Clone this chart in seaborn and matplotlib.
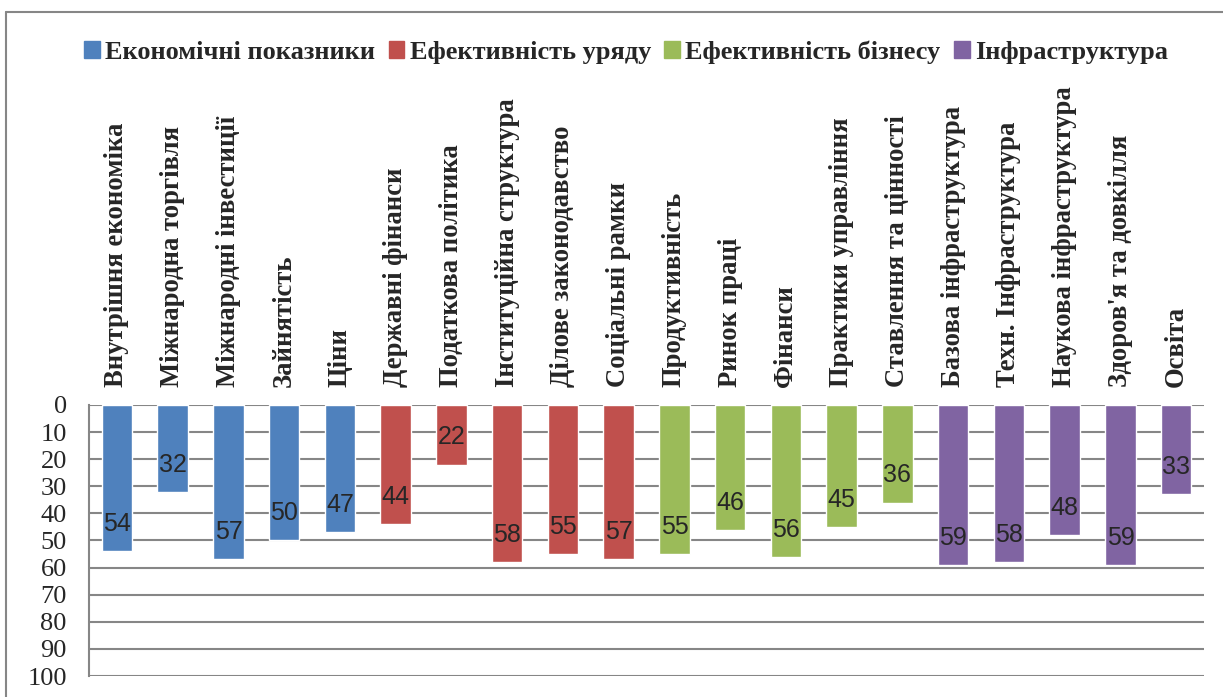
import pandas as pd
import seaborn as sns
import matplotlib.pyplot as plt
from matplotlib.lines import Line2D

# Дані (місця / бали за групами факторів)
categories = [
    "Внутрішня економіка", "Міжнародна торгівля", "Міжнародні інвестиції",
    "Зайнятість", "Ціни",
    "Державні фінанси", "Податкова політика", "Інституційна структура",
    "Ділове законодавство", "Соціальні рамки",
    "Продуктивність", "Ринок праці", "Фінанси", "Практики управління",
    "Ставлення та цінності",
    "Базова інфраструктура", "Техн. Інфраструктура", "Наукова інфраструктура",
    "Здоров'я та довкілля", "Освіта",
]
values = [54, 32, 57, 50, 47,
          44, 22, 58, 55, 57,
          55, 46, 56, 45, 36,
          59, 58, 48, 59, 33]
groups = (["Економічні показники"] * 5 + ["Ефективність уряду"] * 5
          + ["Ефективність бізнесу"] * 5 + ["Інфраструктура"] * 5)
group_names = ["Економічні показники", "Ефективність уряду",
               "Ефективність бізнесу", "Інфраструктура"]
colors = ["#4F81BD", "#C0504D", "#9BBB59", "#8064A2"]
yticks = list(range(0, 101, 10))

df = pd.DataFrame({"category": categories, "value": values, "group": groups})

sns.set_style("white")
plt.rcParams['font.family'] = ['Liberation Serif', 'DejaVu Serif']

fig = plt.figure(figsize=(12.23, 6.97), dpi=100)
ax = fig.add_axes([0.0728, 0.0301, 0.9117, 0.3889])

grid_col = "#868686"
sns.barplot(data=df, x="category", y="value", hue="group", dodge=False,
            palette=dict(zip(group_names, colors)), hue_order=group_names,
            width=0.55, ax=ax, legend=False, saturation=1)

ax.set_ylim(100, 0)
ax.set_yticks(yticks)
ax.set_yticklabels([str(t) for t in yticks], fontsize=19)
ax.yaxis.grid(True, color=grid_col, linewidth=1.5)
ax.set_axisbelow(True)
ax.set_xlim(-0.5, len(categories) - 0.5)
ax.tick_params(axis="y", length=0, pad=16)

# підписи категорій зверху
ax.xaxis.tick_top()
ax.set_xticks(range(len(categories)))
ax.set_xticklabels(categories, rotation=90, fontsize=19.2, fontweight="bold")
ax.tick_params(axis="x", length=0, pad=13)
ax.set_xlabel("")
ax.set_ylabel("")

for side in ["top", "right", "bottom"]:
    ax.spines[side].set_visible(False)
ax.spines["left"].set_color(grid_col)
ax.spines["left"].set_linewidth(1.5)

# значення на стовпчиках
for i, v in enumerate(values):
    ax.text(i, v - 10, str(v), ha="center", va="center", fontsize=18,
            family=["Liberation Sans", "DejaVu Sans"])

# легенда
handles = [plt.Rectangle((0, 0), 1, 1, color=c) for c in colors]
fig.legend(handles, group_names, loc="center", bbox_to_anchor=(0.512, 0.925),
           ncol=4, frameon=False, handlelength=0.6, handleheight=0.6,
           handletextpad=0.2, columnspacing=0.5,
           prop={"family": "Liberation Serif", "weight": "bold", "size": 19})

# рамка
fig.add_artist(Line2D([6 / 1223, 6 / 1223], [0, 1 - 12 / 697],
                      color=grid_col, linewidth=1.5, transform=fig.transFigure))
fig.add_artist(Line2D([6 / 1223, 1], [1 - 12 / 697, 1 - 12 / 697],
                      color=grid_col, linewidth=1.5, transform=fig.transFigure))

plt.savefig("out.png", dpi=100)
